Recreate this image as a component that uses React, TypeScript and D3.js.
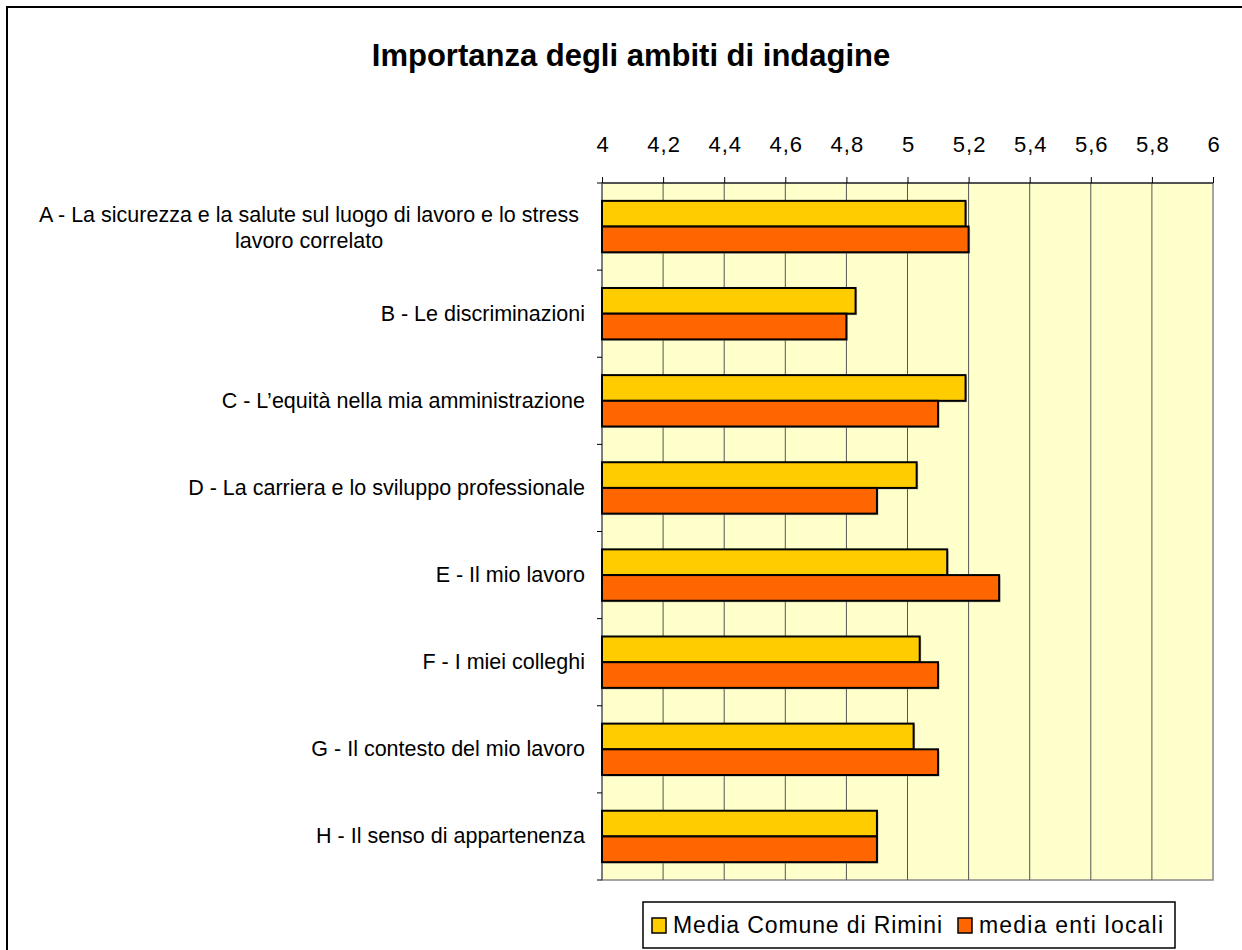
import React, { useEffect, useRef } from 'react';
import * as d3 from 'd3';

const categories = [
    'A - La sicurezza e la salute sul luogo di lavoro e lo stress|lavoro correlato',
    'B - Le discriminazioni',
    'C - L\u2019equità nella mia amministrazione',
    'D - La carriera e lo sviluppo professionale',
    'E - Il mio lavoro',
    'F - I miei colleghi',
    'G - Il contesto del mio lavoro',
    'H - Il senso di appartenenza'
];
const seriesNames = ['Media Comune di Rimini', 'media enti locali'];
const rimini = [5.19, 4.83, 5.19, 5.03, 5.13, 5.04, 5.02, 4.9];
const entiLocali = [5.2, 4.8, 5.1, 4.9, 5.3, 5.1, 5.1, 4.9];
const xTicks = [4, 4.2, 4.4, 4.6, 4.8, 5, 5.2, 5.4, 5.6, 5.8, 6];
const colors = ['#FFCC00', '#FF6600'];

const App: React.FC = () => {
    const svgRef = useRef<SVGSVGElement>(null);

    useEffect(() => {
        const svg = d3.select(svgRef.current);
        svg.selectAll('*').remove();

        const font = '"Liberation Sans", Arial, sans-serif';
        const left = 602, right = 1213, top = 183, bottom = 880;

        // outer frame
        svg.append('rect')
            .attr('x', 7).attr('y', 7)
            .attr('width', 1260).attr('height', 960)
            .attr('fill', '#fff')
            .attr('stroke', '#000').attr('stroke-width', 2);

        svg.append('text')
            .attr('x', 631).attr('y', 66)
            .attr('text-anchor', 'middle')
            .style('font-family', font)
            .style('font-size', '31px')
            .style('font-weight', 'bold')
            .text('Importanza degli ambiti di indagine');

        const x = d3.scaleLinear().domain([4, 6]).range([left, right]);
        const y = d3.scaleBand().domain(categories).range([top, bottom]).padding(0);
        const inner = d3.scaleBand().domain(seriesNames)
            .range([y.bandwidth() * 0.205, y.bandwidth() * 0.795]);

        // plot background
        svg.append('rect')
            .attr('x', left).attr('y', top)
            .attr('width', right - left).attr('height', bottom - top)
            .attr('fill', '#FFFFCC')
            .attr('stroke', '#888').attr('stroke-width', 1.5);

        // grid
        svg.append('g').selectAll('line')
            .data(xTicks.slice(1, -1))
            .enter().append('line')
            .attr('x1', d => x(d)).attr('x2', d => x(d))
            .attr('y1', top).attr('y2', bottom)
            .attr('stroke', '#555').attr('stroke-width', 1);

        // top axis
        const xAxis = svg.append('g')
            .attr('transform', `translate(0,${top})`)
            .call(d3.axisTop(x).tickValues(xTicks).tickSize(6).tickPadding(25)
                .tickFormat(d => String(d).replace('.', ',')));
        xAxis.selectAll('text')
            .style('font-family', font)
            .style('font-size', '22px')
            .style('letter-spacing', '1px')
            .attr('dx', 0.5)
            .attr('fill', '#000');
        xAxis.selectAll('line').attr('stroke', '#000');
        xAxis.select('.domain').attr('stroke', '#000').attr('d', `M${left - 5},0H${right}`);

        // left axis ticks
        svg.append('line')
            .attr('x1', left).attr('x2', left)
            .attr('y1', top).attr('y2', bottom)
            .attr('stroke', '#555');
        svg.append('g').selectAll('line')
            .data(categories)
            .enter().append('line')
            .attr('x1', left - 5).attr('x2', left)
            .attr('y1', d => (y(d) || 0) + y.bandwidth())
            .attr('y2', d => (y(d) || 0) + y.bandwidth())
            .attr('stroke', '#000');

        // bars
        const data = categories.map((c, i) => ({ c, vals: [rimini[i], entiLocali[i]] }));
        const groups = svg.append('g').selectAll('g')
            .data(data)
            .enter().append('g')
            .attr('transform', d => `translate(0,${y(d.c)})`);

        groups.selectAll('.shadow')
            .data(d => d.vals.map((v, k) => ({ v, k })))
            .enter().append('rect')
            .attr('class', 'shadow')
            .attr('x', left + 1.5)
            .attr('y', d => (inner(seriesNames[d.k]) || 0) + 1.5)
            .attr('width', d => x(d.v) - left)
            .attr('height', inner.bandwidth())
            .attr('fill', '#999').attr('opacity', 0.6);

        groups.selectAll('.bar')
            .data(d => d.vals.map((v, k) => ({ v, k })))
            .enter().append('rect')
            .attr('class', 'bar')
            .attr('x', left)
            .attr('y', d => inner(seriesNames[d.k]) || 0)
            .attr('width', d => x(d.v) - left)
            .attr('height', inner.bandwidth())
            .attr('fill', d => colors[d.k])
            .attr('stroke', '#000').attr('stroke-width', 2);

        // category labels
        categories.forEach(c => {
            const lines = c.split('|');
            const cy = (y(c) || 0) + y.bandwidth() / 2;
            const t = svg.append('text')
                .style('font-family', font)
                .style('font-size', '21.5px')
                .attr('fill', '#000');
            if (lines.length === 1) {
                t.attr('x', 585).attr('y', cy + 7).attr('text-anchor', 'end').text(c);
            } else {
                lines.forEach((l, i) => {
                    t.append('tspan')
                        .attr('x', 309)
                        .attr('y', cy - 5 + i * 26)
                        .attr('text-anchor', 'middle')
                        .text(l);
                });
            }
        });

        // legend
        const lg = svg.append('g');
        lg.append('rect')
            .attr('x', 643).attr('y', 902)
            .attr('width', 532).attr('height', 46)
            .attr('fill', '#fff').attr('stroke', '#000').attr('stroke-width', 1.5);
        const legendX = [652, 958];
        const legendW = [269, 184];
        seriesNames.forEach((s, i) => {
            lg.append('rect')
                .attr('x', legendX[i]).attr('y', 918)
                .attr('width', 14).attr('height', 15)
                .attr('fill', colors[i]).attr('stroke', '#000').attr('stroke-width', 1.5);
            lg.append('text')
                .attr('x', legendX[i] + 21).attr('y', 933)
                .attr('textLength', legendW[i])
                .attr('lengthAdjust', 'spacing')
                .style('font-family', font)
                .style('font-size', '23px')
                .text(s);
        });
    }, []);

    return (
        <svg
            ref={svgRef}
            width={1242}
            height={950}
            style={{ position: 'absolute', left: 0, top: 0 }}
        />
    );
};

export default App;
